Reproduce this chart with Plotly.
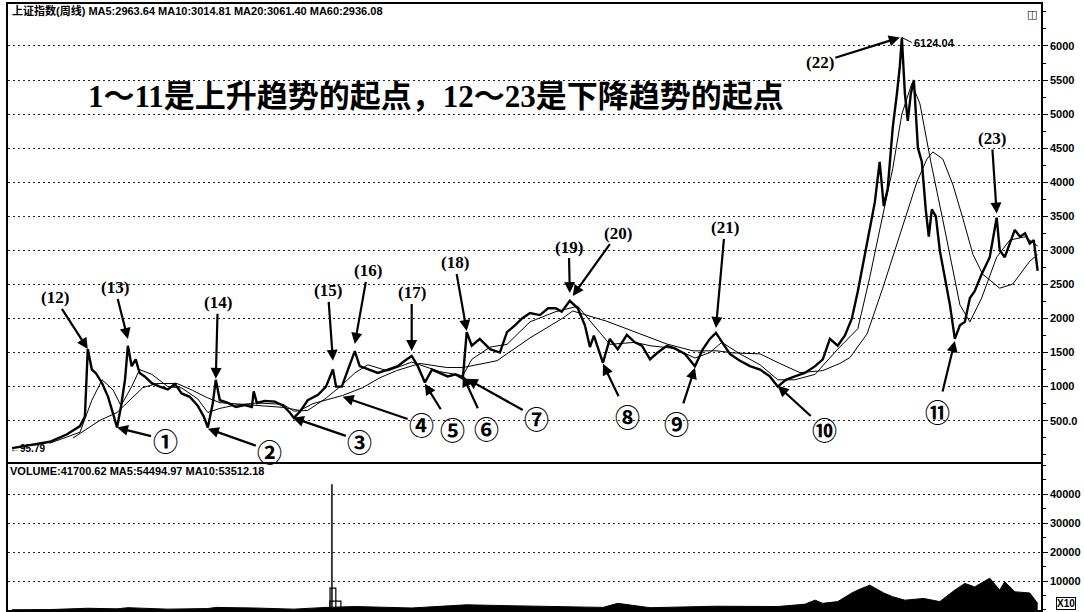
import plotly.graph_objects as go

# ---------------- data ----------------
close_dates = [
    "1990-12-19", "1991-04-20", "1991-09-06", "1992-01-03", "1992-04-01", "1992-05-05", "1992-05-25",
    "1992-06-22", "1992-07-19", "1992-09-01", "1992-10-12", "1992-11-16", "1992-12-13", "1993-01-09",
    "1993-02-06", "1993-02-26", "1993-03-24", "1993-04-21", "1993-05-18", "1993-06-22", "1993-08-10",
    "1993-10-04", "1993-11-29", "1994-01-17", "1994-03-04", "1994-04-29", "1994-06-23", "1994-08-04",
    "1994-09-01", "1994-10-05", "1994-10-26", "1994-11-23", "1995-01-18", "1995-03-13", "1995-05-14",
    "1995-07-02", "1995-07-15", "1995-08-06", "1995-09-30", "1995-12-08", "1996-02-03", "1996-03-20",
    "1996-04-17", "1996-05-28", "1996-07-22", "1996-10-01", "1996-11-25", "1997-01-12", "1997-02-03",
    "1997-03-14", "1997-04-24", "1997-06-12", "1997-07-16", "1997-09-10", "1997-11-18", "1998-01-27",
    "1998-04-05", "1998-05-23", "1998-07-10", "1998-08-21", "1998-10-09", "1998-11-27", "1999-01-21",
    "1999-03-15", "1999-05-10", "1999-06-28", "1999-07-25", "1999-08-29", "1999-10-23", "2000-01-02",
    "2000-03-10", "2000-04-28", "2000-06-22", "2000-08-10", "2000-10-04", "2000-12-12", "2001-02-06",
    "2001-03-30", "2001-05-11", "2001-07-06", "2001-08-30", "2001-10-18", "2001-11-22", "2001-12-19",
    "2002-02-20", "2002-04-08", "2002-06-02", "2002-08-04", "2002-09-28", "2002-11-16", "2003-01-11",
    "2003-03-05", "2003-05-07", "2003-07-01", "2003-09-09", "2003-11-17", "2004-01-11", "2004-02-28",
    "2004-04-10", "2004-05-21", "2004-07-15", "2004-09-23", "2004-12-01", "2005-02-09", "2005-04-17",
    "2005-06-11", "2005-08-06", "2005-10-07", "2005-12-15", "2006-02-24", "2006-04-18", "2006-06-06",
    "2006-07-30", "2006-09-18", "2006-11-05", "2006-12-16", "2007-01-20", "2007-02-11", "2007-03-08",
    "2007-04-12", "2007-05-16", "2007-06-13", "2007-07-10", "2007-08-14", "2007-09-12", "2007-10-02",
    "2007-10-16", "2007-11-06", "2007-11-26", "2007-12-17", "2008-01-07", "2008-02-04", "2008-03-02",
    "2008-03-29", "2008-04-19", "2008-05-10", "2008-06-07", "2008-07-04", "2008-08-08", "2008-09-12",
    "2008-10-16", "2008-11-20", "2008-12-24", "2009-01-28", "2009-03-02", "2009-04-19", "2009-06-14",
    "2009-08-01", "2009-08-22", "2009-09-26", "2009-10-30", "2009-12-04", "2010-01-09", "2010-02-13",
    "2010-03-17", "2010-04-14", "2010-05-11",
]
close_values = [
    96, 135, 190, 300, 420, 560, 1550,
    1250, 1200, 1050, 850, 600, 400, 700,
    1100, 1600, 1300, 1400, 1200, 1150, 1050,
    1000, 960, 1040, 900, 850, 720, 560,
    400, 750, 1100, 800, 760, 700, 730,
    700, 930, 760, 790, 780, 720, 620,
    540, 630, 800, 880, 1000, 1250, 1000,
    1000, 1250, 1520, 1300, 1250, 1200, 1250,
    1300, 1380, 1450, 1300, 1060, 1250, 1200,
    1150, 1180, 1120, 1800, 1600, 1700, 1550,
    1500, 1800, 1900, 2000, 2080, 2050, 2150,
    2150, 2100, 2260, 2150, 1900, 1580, 1750,
    1350, 1700, 1550, 1760, 1650, 1600, 1400,
    1500, 1600, 1560, 1480, 1300, 1550, 1700,
    1790, 1650, 1480, 1380, 1300, 1250, 1150,
    1000, 1100, 1150, 1200, 1300, 1400, 1700,
    1600, 1750, 2000, 2400, 2800, 3000, 3300,
    3700, 4300, 3650, 3900, 4800, 5300, 5700,
    6124, 5300, 4900, 5300, 5500, 4500, 4300,
    3600, 3200, 3600, 3500, 3000, 2600, 2200,
    1700, 1900, 1950, 2300, 2400, 2650, 2900,
    3480, 3000, 2900, 3100, 3300, 3200, 3250,
    3100, 3150, 2700,
]

ma20_dates = [
    "1991-09-06", "1992-04-01", "1992-06-22", "1992-09-01", "1992-11-16", "1993-01-09", "1993-03-24",
    "1993-05-18", "1993-08-10", "1993-11-29", "1994-03-04", "1994-06-23", "1994-09-01", "1994-11-23",
    "1995-03-13", "1995-08-06", "1996-02-03", "1996-04-17", "1996-07-22", "1996-11-25", "1997-03-14",
    "1997-06-12", "1997-09-10", "1998-01-27", "1998-07-10", "1998-10-09", "1999-01-21", "1999-06-28",
    "1999-08-29", "2000-01-02", "2000-04-28", "2000-10-04", "2001-03-30", "2001-08-30", "2001-12-19",
    "2002-04-08", "2002-09-28", "2003-01-11", "2003-07-01", "2003-11-17", "2004-02-28", "2004-05-21",
    "2004-09-23", "2005-02-09", "2005-06-11", "2005-10-07", "2006-02-24", "2006-07-30", "2006-12-16",
    "2007-03-08", "2007-05-16", "2007-08-14", "2007-10-16", "2007-12-24", "2008-02-18", "2008-05-03",
    "2008-08-08", "2008-11-20", "2009-01-28", "2009-04-19", "2009-08-01", "2009-10-30", "2010-02-13",
    "2010-05-11",
]
ma20_values = [
    170, 330, 800, 1100, 950, 720, 1000,
    1250, 1180, 1000, 980, 820, 620, 680,
    730, 760, 740, 640, 650, 830, 1020,
    1200, 1320, 1230, 1360, 1300, 1220, 1160,
    1400, 1580, 1620, 1950, 2100, 2180, 1900,
    1620, 1650, 1600, 1560, 1420, 1500, 1650,
    1480, 1320, 1100, 1100, 1180, 1550, 1850,
    2600, 3300, 4200, 5000, 5450, 5150, 4300,
    3300, 2200, 1950, 2300, 2900, 3150, 3200,
    3061,
]

ma60_dates = [
    "1992-02-13", "1992-08-17", "1992-12-13", "1993-06-09", "1993-09-14", "1994-02-01", "1994-05-19",
    "1994-08-25", "1994-11-23", "1995-02-22", "1995-07-08", "1996-02-03", "1996-05-28", "1996-08-27",
    "1997-03-20", "1997-08-06", "1997-12-02", "1998-03-28", "1998-09-05", "1999-03-09", "1999-06-28",
    "2000-02-19", "2000-10-04", "2001-05-18", "2001-07-26", "2001-10-04", "2002-03-17", "2002-11-02",
    "2003-05-07", "2003-11-03", "2004-04-17", "2004-08-06", "2005-02-09", "2005-06-25", "2005-11-11",
    "2006-04-18", "2006-08-14", "2006-10-22", "2007-02-18", "2007-06-06", "2007-10-02", "2008-01-28",
    "2008-04-06", "2008-05-17", "2008-07-25", "2008-10-03", "2008-12-11", "2009-02-18", "2009-04-26",
    "2009-08-22", "2009-11-20", "2010-03-17", "2010-05-11",
]
ma60_values = [
    245, 505, 620, 985, 1045, 1045, 945,
    840, 765, 750, 720, 695, 650, 750,
    870, 985, 1130, 1235, 1340, 1280, 1280,
    1380, 1715, 2005, 2110, 2065, 1960, 1775,
    1625, 1525, 1525, 1495, 1480, 1340, 1205,
    1235, 1340, 1425, 1775, 2445, 3230, 4005,
    4340, 4445, 4340, 3960, 3465, 2940, 2650,
    2445, 2505, 2840, 2936,
]

vol_dates = [
    "1990-12-19", "1991-09-06", "1992-05-25", "1992-12-13", "1993-02-26", "1993-11-29", "1994-09-01",
    "1994-10-26", "1995-07-15", "1996-04-17", "1996-11-25", "1997-06-12", "1998-07-10", "1999-07-25",
    "2000-04-28", "2001-02-06", "2001-07-06", "2002-02-20", "2002-06-02", "2003-01-11", "2004-04-10",
    "2005-06-11", "2005-12-15", "2006-02-24", "2006-04-18", "2006-07-30", "2006-11-05", "2006-12-16",
    "2007-03-08", "2007-06-13", "2007-08-14", "2007-11-06", "2008-03-15", "2008-07-04", "2008-10-16",
    "2008-12-24", "2009-03-02", "2009-06-14", "2009-08-22", "2009-09-26", "2009-12-04", "2010-03-17",
    "2010-05-11",
]
vol_values = [
    100, 150, 600, 400, 800, 300, 500,
    900, 700, 300, 900, 1200, 700, 1800,
    1500, 1200, 1000, 900, 2300, 800, 1300,
    1200, 2000, 3400, 2300, 2900, 5900, 6900,
    8600, 5900, 4600, 3400, 4000, 2900, 6900,
    9200, 8000, 11000, 6900, 9800, 6300, 5900,
    2300,
]
spike_dates = ["1997-01-05"]
spike_values = [43400]
box_dates = ["1997-01-29", "1997-01-12"]
box_values = [3100, 7600]

point_labels = ["①", "②", "③", "④", "⑤", "⑥", "⑦", "⑧", "⑨", "⑩", "⑪",
                "(12)", "(13)", "(14)", "(15)", "(16)", "(17)", "(18)", "(19)", "(20)", "(21)", "(22)", "(23)"]
point_dates = ["1992-12-13", "1994-09-01", "1996-04-10", "1997-03-20", "1998-10-09", "1999-06-28", "1999-07-25",
               "2002-02-20", "2003-11-17", "2005-06-11", "2008-10-16",
               "1992-05-25", "1993-02-26", "1994-10-26", "1997-01-12", "1997-06-12", "1998-07-10", "1999-07-25",
               "2001-07-06", "2001-07-26", "2004-04-10", "2007-10-02", "2009-08-01"]
point_values = [398, 383, 544, 851, 1042, 1159, 1115, 1334, 1276, 1012, 1671,
                1553, 1700, 1115, 1378, 1627, 1524, 1817, 2373, 2329, 1861, 6124, 3541]

price_ticks = [500, 1000, 1500, 2000, 2500, 3000, 3500, 4000, 4500, 5000, 5500, 6000]
price_tick_text = ["500.0", "1000", "1500", "2000", "2500", "3000", "3500", "4000", "4500", "5000", "5500", "6000"]
vol_ticks = [10000, 20000, 30000, 40000]
vol_tick_text = ["10000", "20000", "30000", "40000"]

header_text = "上证指数(周线) MA5:2963.64 MA10:3014.81 MA20:3061.40 MA60:2936.08"
vol_header_text = "VOLUME:41700.62 MA5:54494.97 MA10:53512.18"
title_text = "1～11是上升趋势的起点，12～23是下降趋势的起点"
peak_text = "6124.04"
low_text = "←95.79"
low_value = 95.79

# ---------------- styling / layout ----------------
X_RANGE = ["1990-11-21", "2010-06-03"]
# label offsets (pixels from arrow tip to label centre)
offsets = {
    "①": (48, 12), "②": (62, 22), "③": (67, 23), "④": (79, 27), "⑤": (28, 45), "⑥": (24, 52),
    "⑦": (70, 39), "⑧": (25, 52), "⑨": (-18, 55), "⑩": (47, 43), "⑪": (-17, 70),
    "(12)": (-33, -51), "(13)": (-13, -51), "(14)": (2, -76), "(15)": (-5, -70), "(16)": (13, -73),
    "(17)": (0, -58), "(18)": (-12, -68), "(19)": (-1, -46), "(20)": (45, -63), "(21)": (9, -100),
    "(22)": (-80, 25), "(23)": (-5, -75),
}

fig = go.Figure()
fig.add_trace(go.Scatter(x=ma60_dates, y=ma60_values, mode="lines",
                         line=dict(color="black", width=1), xaxis="x", yaxis="y"))
fig.add_trace(go.Scatter(x=ma20_dates, y=ma20_values, mode="lines",
                         line=dict(color="black", width=1), xaxis="x", yaxis="y"))
fig.add_trace(go.Scatter(x=close_dates, y=close_values, mode="lines",
                         line=dict(color="black", width=2.4), xaxis="x", yaxis="y"))

fig.add_trace(go.Scatter(x=vol_dates, y=vol_values, mode="lines", fill="tozeroy",
                         fillcolor="black", line=dict(color="black", width=1),
                         xaxis="x2", yaxis="y2"))
fig.add_trace(go.Bar(x=box_dates, y=box_values, width=[76 * 86400000, 40 * 86400000],
                     marker=dict(color="rgba(255,255,255,0)", line=dict(color="black", width=1.2)),
                     xaxis="x2", yaxis="y2"))
fig.add_trace(go.Bar(x=spike_dates, y=spike_values, width=[7 * 86400000],
                     marker=dict(color="black", line=dict(color="black", width=0.5)),
                     xaxis="x2", yaxis="y2"))

grid = dict(showgrid=True, gridcolor="#222", gridwidth=1, griddash="2px,3px")
axis_font = dict(family="Liberation Sans", size=11, color="black", weight="bold")

fig.update_layout(
    width=1084, height=612,
    margin=dict(l=8, r=43, t=2, b=2),
    paper_bgcolor="white", plot_bgcolor="white",
    showlegend=False, barmode="overlay",
    xaxis=dict(domain=[0, 1], range=X_RANGE, type="date", showticklabels=False, showgrid=False,
               showline=True, linecolor="black", linewidth=2, mirror=True, ticks="", anchor="y",
               zeroline=False),
    yaxis=dict(domain=[0.2434, 1], range=[-114, 6616], side="right", tickvals=price_ticks,
               ticktext=price_tick_text, tickfont=axis_font, ticks="outside", ticklen=5,
               tickcolor="black", showline=True, linecolor="black", linewidth=1.5, mirror=True,
               zeroline=False, anchor="x",
               minor=dict(ticks="outside", ticklen=3, dtick=250, tickcolor="black", showgrid=False),
               **grid),
    xaxis2=dict(domain=[0, 1], range=X_RANGE, type="date", showticklabels=False, showgrid=False,
                showline=True, linecolor="black", linewidth=2, mirror=True, ticks="", anchor="y2",
                zeroline=False),
    yaxis2=dict(domain=[0, 0.2401], range=[0, 50345], side="right", tickvals=vol_ticks,
                ticktext=vol_tick_text, tickfont=axis_font, ticks="outside", ticklen=5,
                tickcolor="black", showline=True, linecolor="black", linewidth=1.5, mirror=True,
                zeroline=False, anchor="x2",
                minor=dict(ticks="outside", ticklen=3, dtick=5000, tickcolor="black", showgrid=False),
                **grid),
)

annotations = []
for lab, d, v in zip(point_labels, point_dates, point_values):
    ax, ay = offsets[lab]
    if lab.startswith("("):
        font = dict(family="Liberation Serif", size=17, color="black", weight="bold")
    else:
        font = dict(family="Noto Sans CJK SC", size=25, color="black", weight="bold")
    annotations.append(dict(x=d, y=v, xref="x", yref="y", text=lab, showarrow=True,
                            ax=ax, ay=ay, arrowhead=2, arrowsize=1, arrowwidth=2.2,
                            arrowcolor="black", font=font))

annotations.append(dict(x="2007-10-16", y=6124.04, xref="x", yref="y", text=peak_text,
                        showarrow=True, ax=10, ay=5, arrowhead=0, arrowwidth=1, arrowcolor="black",
                        xanchor="left", yanchor="middle",
                        font=dict(family="Liberation Sans", size=11, color="black", weight="bold")))
annotations.append(dict(x=0, y=low_value, xref="paper", yref="y", text=low_text, showarrow=False,
                        xanchor="left", yanchor="middle",
                        font=dict(family="Liberation Sans", size=10, color="black", weight="bold")))
annotations.append(dict(x=0.002, y=0.99, xref="paper", yref="paper", text=header_text,
                        showarrow=False, xanchor="left", yanchor="middle",
                        font=dict(family="Liberation Sans, Noto Sans CJK SC", size=11, color="black",
                                  weight="bold")))
annotations.append(dict(x=0.0, y=0.230, xref="paper", yref="paper", text=vol_header_text,
                        showarrow=False, xanchor="left", yanchor="middle",
                        font=dict(family="Liberation Sans", size=11, color="black", weight="bold")))
annotations.append(dict(x=0.4143, y=0.847, xref="paper", yref="paper", text=title_text,
                        showarrow=False, xanchor="center", yanchor="middle",
                        font=dict(family="Liberation Serif, Noto Sans CJK SC", size=31, color="black",
                                  weight="bold")))
annotations.append(dict(x=1.0145, y=0.0115, xref="paper", yref="paper", text="X10", showarrow=False,
                        xanchor="left", yanchor="middle", bordercolor="black", borderwidth=1, borderpad=0,
                        font=dict(family="Liberation Sans", size=10, color="black", weight="bold")))
annotations.append(dict(x=0.9985, y=0.982, xref="paper", yref="paper", text="◫", showarrow=False,
                        xanchor="right", yanchor="middle",
                        font=dict(family="DejaVu Sans", size=11, color="black", weight="bold")))
fig.update_layout(annotations=annotations)

# the page body has a default 8px margin; remove it so the figure fills the window exactly
fig.write_html("out.html", config={"displayModeBar": False},
               post_script="document.body.style.margin='0px';")
